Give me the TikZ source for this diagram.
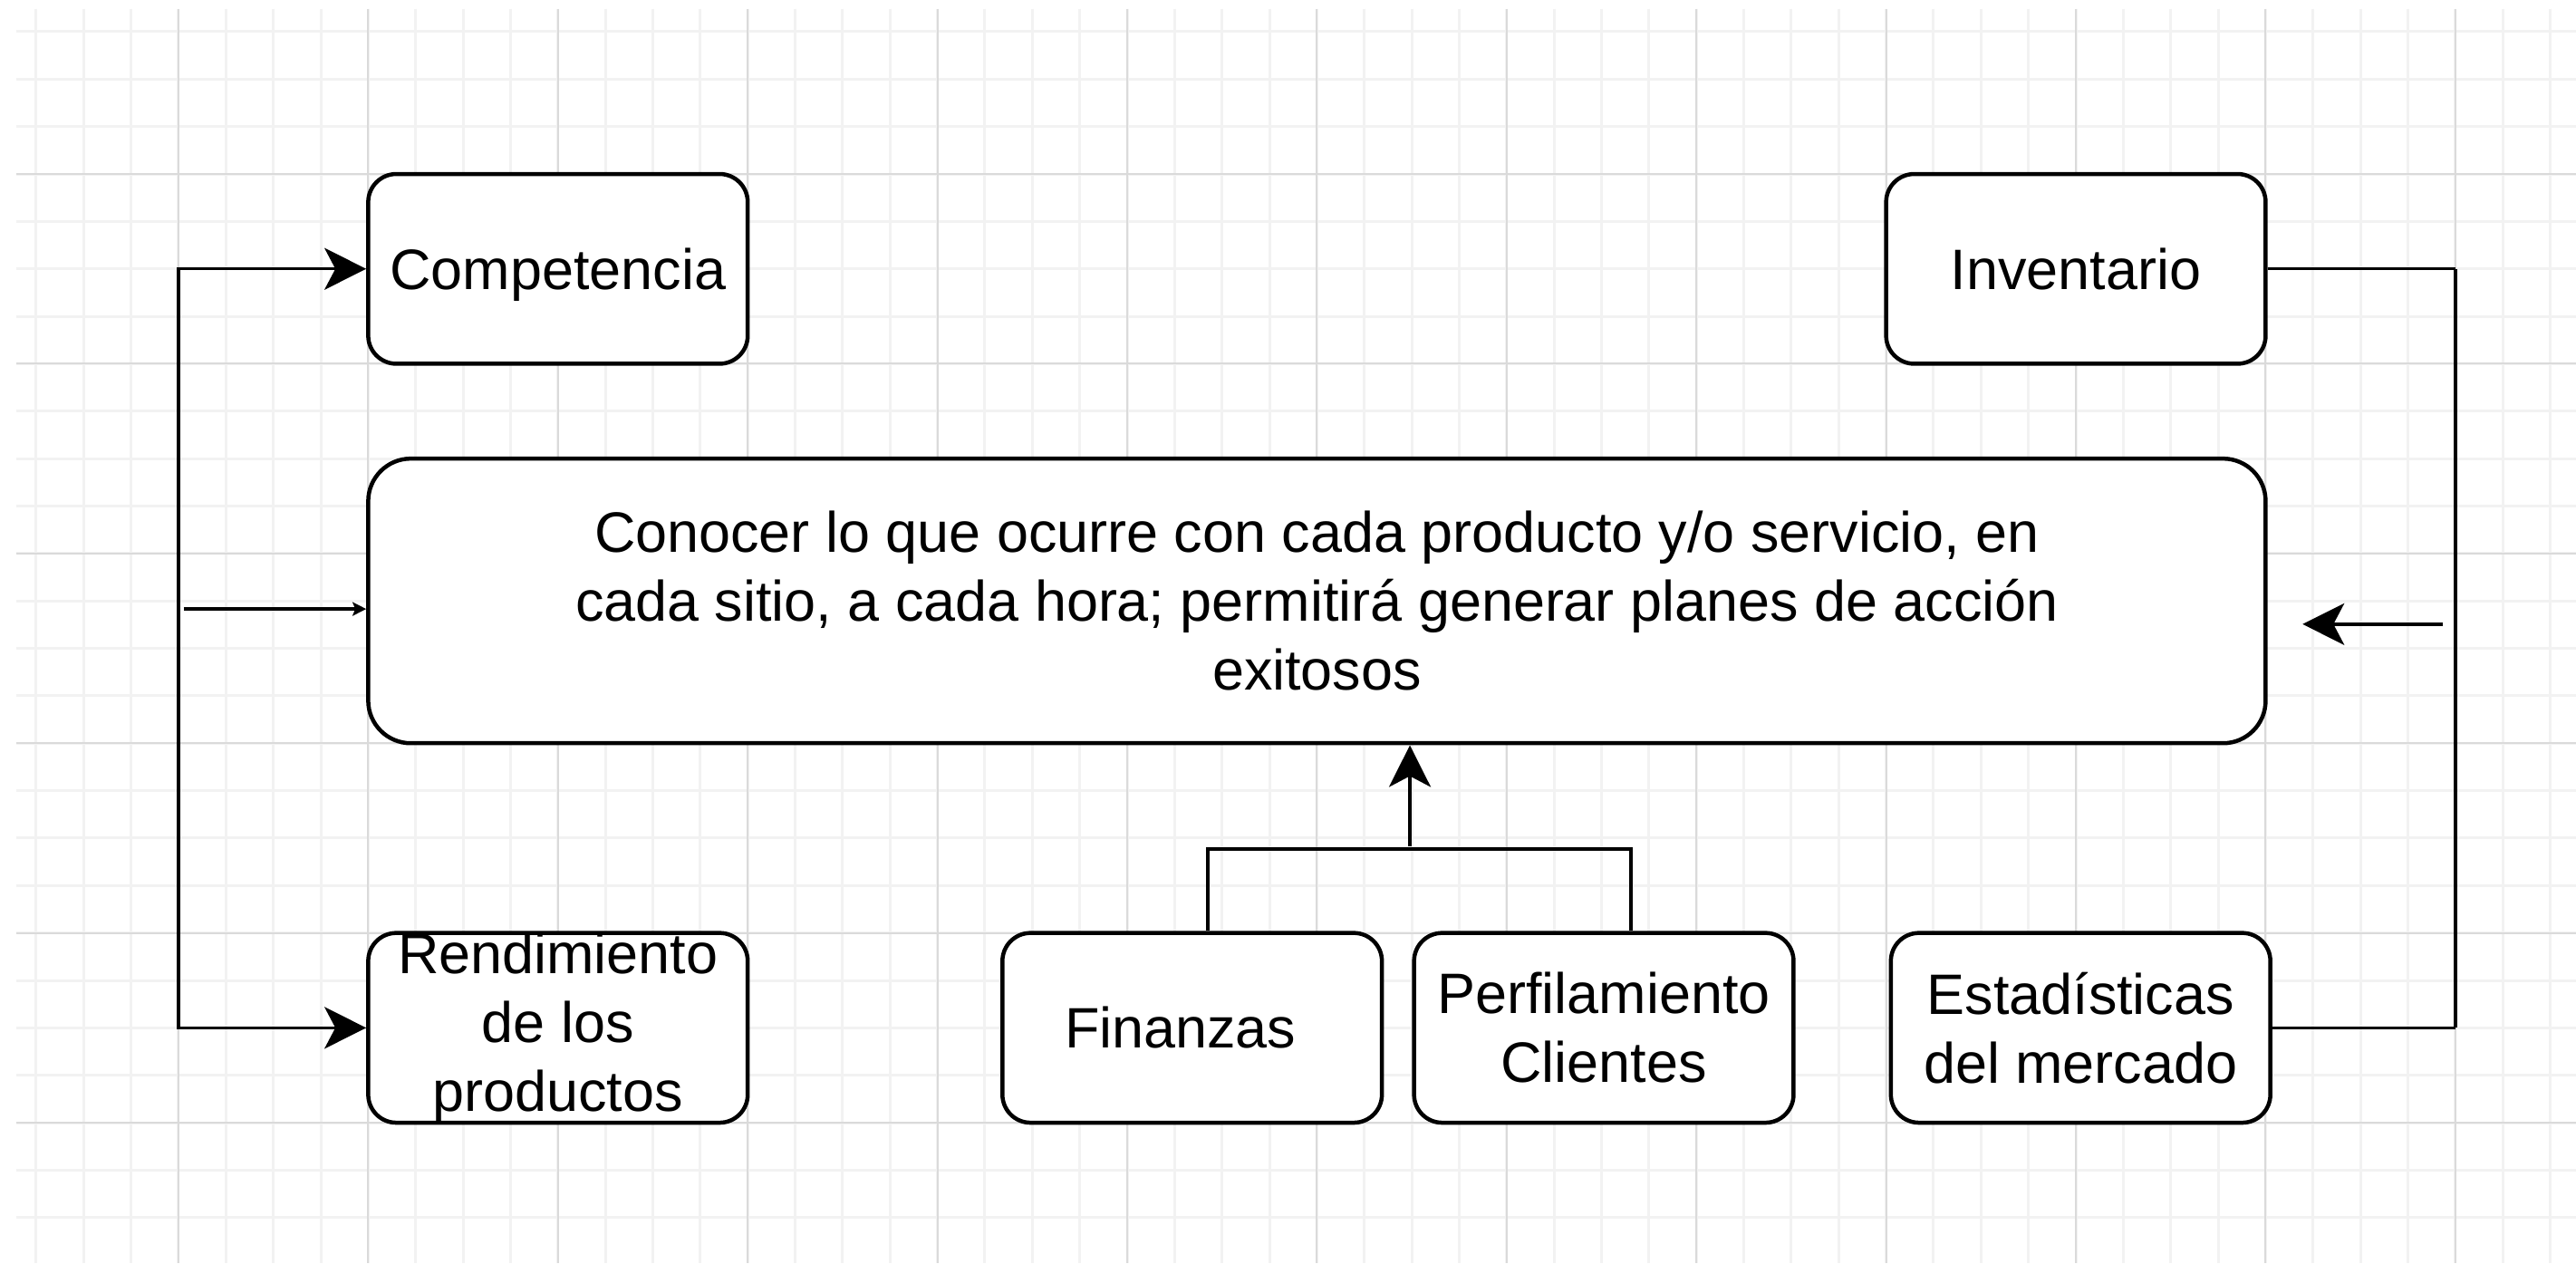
\documentclass[tikz,border=0pt]{standalone}
\usepackage{fontspec}
\setmainfont{Liberation Sans}
\usepackage{tikz}
\usetikzlibrary{positioning, arrows.meta, calc}
\definecolor{GridMajor}{HTML}{DADADA}
\definecolor{GridMinor}{HTML}{F2F2F2}

\begin{document}
\begin{tikzpicture}[
    x=5.235mm, y=-5.235mm,
    label text/.style={align=center, font=\fontsize{17.9}{21.6}\selectfont},
    area/.style={draw, line width=0.45mm, rounded corners=3.1mm, fill=white,
      minimum width=41.88mm, minimum height=20.94mm, label text},
    goal/.style={area, rounded corners=4.7mm, minimum width=209.4mm, minimum height=31.41mm},
    link/.style={line width=0.35mm},
    flow/.style={link, -{Stealth[length=4.6mm, width=4.6mm, inset=1.2mm]}},
    nudge/.style={link, -{Stealth[length=1.5mm, width=1.5mm, inset=0.3mm]}}
]
  % Grid
  \fill[white] (-3.763,-3.668) rectangle (50.544,22.961);
  \useasboundingbox (-3.763,-3.668) rectangle (50.544,22.961);
  \foreach \i in {-3,...,50} \draw[GridMinor, line width=0.3mm] (\i,-3.48) -- (\i,22.961);
  \foreach \j in {-3,...,22} \draw[GridMinor, line width=0.3mm] (-3.42,\j) -- (50.544,\j);
  \foreach \i in {0,4,...,48} \draw[GridMajor, line width=0.2mm] (\i,-3.48) -- (\i,22.961);
  \foreach \j in {0,4,...,20} \draw[GridMajor, line width=0.2mm] (-3.42,\j) -- (50.544,\j);

  % Boxes
  \node[area, text depth=0pt] (comp) at (8,2) {Competencia};
  \node[area] (inv) at (40,2) {Inventario};
  \node[goal] (main) at (24,9) {Conocer lo que ocurre con cada producto y/o servicio, en\\cada sitio, a cada hora; permitirá generar planes de acción\\exitosos};
  \node[area] (rend) at (8,18) {};
  \node[label text] (rendtext) at (rend.center) {Rendimiento\\de los\\productos};
  \node[area] (fin) at (21.37,18) {Finanzas\hspace*{2.6mm}};
  \node[area, right=3.1mm of fin] (perf) {Perfilamiento\\Clientes};
  \node[area] (est) at (40.1,18) {Estadísticas\\del mercado};

  % Left side
  \coordinate (busL) at (0,0);
  \draw[flow] (busL |- rend.west) |- (comp.west);
  \draw[flow] (busL |- comp.west) |- (rend.west);
  \coordinate (inL) at (0.11,9.17);
  \draw[nudge] (inL) -- (inL -| main.west);

  % Right side
  \coordinate (busR) at (48,0);
  \draw[link, line width=0.28mm] (inv.east) -- (busR |- inv.east);
  \draw[link, line width=0.28mm] (est.east) -- (busR |- est.east);
  \draw[link, line width=0.45mm] (busR |- inv.east) -- (busR |- est.east);
  \coordinate (inR) at (47.74,9.49);
  \coordinate (inRtip) at (44.78,9.49);
  \draw[flow] (inR) -- (inRtip);

  % Bottom
  \coordinate (bl) at ($(fin.north west)!0.54!(fin.north east)$);
  \coordinate (br) at ($(perf.north west)!0.57!(perf.north east)$);
  \draw[link, line width=0.4mm] (bl) -- ++(0,-1.73) -| (br);
  \coordinate (join) at (25.96,14.17);
  \draw[flow] (join) -- (join |- main.south);
\end{tikzpicture}
\end{document}
